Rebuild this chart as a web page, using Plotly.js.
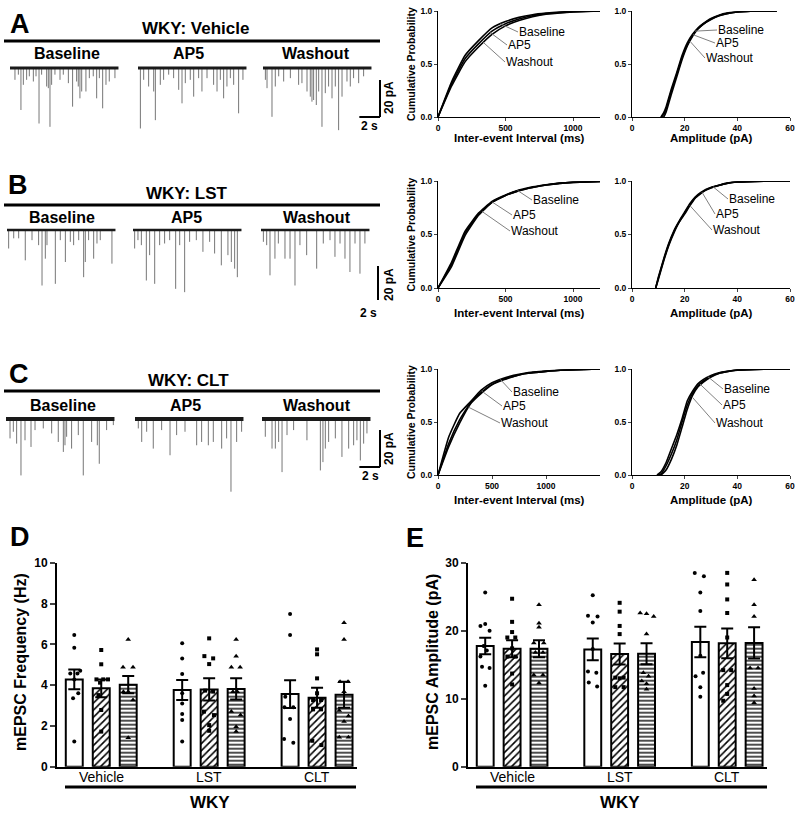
<!DOCTYPE html>
<html><head><meta charset="utf-8">
<script src="https://cdn.plot.ly/plotly-3.0.1.min.js"></script>
<style>html,body{margin:0;padding:0;background:#fff}#chart{width:800px;height:813px}</style>
</head><body><div id="chart"></div>
<script>
// ================= DATA =================
const conditions = ['Baseline', 'AP5', 'Washout'];
const groups = ['Vehicle', 'LST', 'CLT'];
const rowTitles = ['WKY: Vehicle', 'WKY: LST', 'WKY: CLT'];
const panelLetters = ['A', 'B', 'C', 'D', 'E'];

// Example traces: event times (s from trace start) and amplitudes (pA, inward)
const evtT_A_Baseline = [0.48,0.81,1.06,1.29,1.61,1.87,2.26,2.52,2.81,3.06,3.55,3.71,3.87,4.03,4.35,4.84,5.16,5.65,6.06,6.45,6.61,6.77,6.94,7.35,7.68,8.06,8.39,8.65,8.97,9.29,9.61,10.16];
const evtA_A_Baseline = [6.4,3.6,22.7,9.1,6.4,4.5,7.3,4.5,30,3.6,10,10.9,31.8,9.1,3.6,6.4,3.6,8.2,20.9,7.3,10,16.4,12.7,12.7,5.5,4.5,16.4,5.5,21.8,9.1,7.3,5.5];
const evtT_A_AP5 = [0.23,0.55,1.03,1.52,1.68,2.16,2.48,2.97,3.45,3.94,4.26,4.58,5.06,5.39,5.87,6.19,6.68,7.32,7.65,7.97,8.29,8.61,8.94,9.26,9.74,10.16];
const evtA_A_AP5 = [32.7,6.4,10,12.7,28.2,9.1,6.4,3.6,5.5,11.8,19.1,8.2,6.4,15.5,5.5,12.7,5.5,9.1,12.7,6.4,16.4,10,5.5,9.1,24.5,6.4];
const evtT_A_Washout = [0.23,0.39,0.87,1.19,1.52,2.0,2.65,3.45,3.77,4.26,4.58,4.74,4.9,5.16,5.39,5.71,6.03,6.35,6.68,7.0,7.32,7.65,8.13,8.45,8.77,9.26,9.74];
const evtA_A_Washout = [6.4,10.9,26.4,10,4.5,7.3,5.5,9.1,8.2,12.7,15.5,18.2,17.3,20,12.7,31.8,13.6,10,16.4,10,33.6,15.5,7.3,10,5.5,8.2,4.5];

const evtT_B_Baseline = [0.16,0.65,1.13,1.77,2.42,3.06,3.39,3.71,3.87,4.68,5.16,5.65,6.13,6.45,6.94,7.42,7.58,7.9,8.39,8.71,9.03,10.16];
const evtA_B_Baseline = [10,4.5,4.5,16.4,5.5,8.2,30,15.5,8.2,29.1,5.5,17.3,6.4,8.2,5.5,25.5,17.3,5.5,15.5,7.3,5.5,18.2];
const evtT_B_AP5 = [0.16,0.48,0.81,1.29,1.61,2.1,2.58,3.06,3.55,4.13,4.52,5.0,5.48,6.13,6.77,7.42,7.9,8.55,9.19,9.52,9.84,10.1];
const evtA_B_AP5 = [10,5.5,8.2,27.3,13.6,29.1,8.2,7.3,5.5,31.8,8.2,33.6,6.4,5.5,11.8,6.4,12.7,19.1,13.6,17.3,20.9,25.5];
const evtT_B_Washout = [0.23,0.55,0.87,1.35,1.68,2.32,2.81,3.29,3.77,4.42,5.39,6.03,6.68,7.16,7.65,8.13,8.61,9.1,9.58,10.06];
const evtA_B_Washout = [6.4,8.2,24.5,15.5,7.3,15.5,15.5,30,8.2,13.6,20.9,7.3,5.5,14.5,7.3,15.5,22.7,7.3,23.6,7.3];

const evtT_C_Baseline = [0.39,0.71,1.03,1.45,1.84,2.42,2.81,3.61,4.42,5.06,5.55,5.71,5.87,6.35,7.0,7.48,8.29,8.84,9.03,9.74,10.39];
const evtA_C_Baseline = [10.5,6.9,13.3,30.5,11.5,15.1,6,5.1,7.8,12.4,17.8,14.2,9.6,16,8.7,30.5,12.4,14.2,24.2,6,3.3];
const evtT_C_AP5 = [0.32,0.65,1.13,1.77,2.58,3.39,4.03,4.84,5.97,6.45,7.1,7.58,8.39,8.87,9.29,9.84,10.32];
const evtA_C_AP5 = [5.1,12.4,6.9,16,6,19.6,8.7,6.9,14.2,12.4,14.2,12.4,16,10.5,39.3,12.4,6.9];
const evtT_C_Washout = [0.32,0.97,1.29,1.61,1.94,2.42,3.06,4.35,5.65,5.9,6.13,6.45,7.1,7.74,8.39,8.87,9.19,9.52,9.84,10.16];
const evtA_C_Washout = [9.6,16,16,12.4,28.7,8.7,6,11.5,27.8,23.3,16,12.4,10.5,20.5,16,14.2,11.5,22.4,13.3,7.8];

// Cumulative probability: inter-event interval (ms)
const ieiX_AB = [0,100,200,300,400,500,600,700,800,900,1000,1200];
const iei_A_Baseline = [0,0.33,0.58,0.72,0.84,0.9,0.94,0.965,0.98,0.99,0.995,1];
const iei_A_AP5      = [0,0.31,0.55,0.69,0.81,0.88,0.925,0.955,0.975,0.985,0.993,1];
const iei_A_Washout  = [0,0.29,0.52,0.66,0.78,0.86,0.91,0.945,0.97,0.982,0.99,1];
const iei_B_Baseline = [0,0.24,0.53,0.7,0.81,0.87,0.915,0.945,0.965,0.98,0.988,0.995];
const iei_B_AP5      = [0,0.22,0.51,0.69,0.8,0.865,0.91,0.94,0.962,0.978,0.987,0.995];
const iei_B_Washout  = [0,0.2,0.49,0.68,0.8,0.865,0.91,0.94,0.962,0.978,0.987,0.995];
const ieiX_C = [0,100,200,300,400,500,600,700,800,1000,1200,1500];
const iei_C_Baseline = [0,0.36,0.58,0.69,0.8,0.87,0.91,0.94,0.96,0.98,0.99,1];
const iei_C_AP5      = [0,0.3,0.52,0.68,0.78,0.855,0.9,0.93,0.955,0.978,0.99,1];
const iei_C_Washout  = [0,0.27,0.49,0.67,0.77,0.85,0.895,0.93,0.955,0.978,0.99,1];

// Cumulative probability: amplitude (pA)
const ampX_A = [11,12,13,15,17,19,21,23,25,27,30,33,36,40,45,55];
const amp_A_Baseline = [0,0.04,0.1,0.27,0.42,0.58,0.7,0.78,0.84,0.88,0.93,0.96,0.98,0.99,0.997,1];
const amp_A_AP5      = [0,0.02,0.08,0.25,0.4,0.56,0.68,0.77,0.83,0.875,0.925,0.955,0.975,0.99,0.997,1];
const amp_A_Washout  = [0,0,0.05,0.22,0.38,0.54,0.67,0.76,0.83,0.875,0.92,0.955,0.975,0.99,0.997,1];
const ampX_B = [9,10,12,14,16,18,20,22,24,26,28,30,33,36,40,50,60];
const amp_B_Baseline = [0,0.1,0.27,0.42,0.54,0.63,0.71,0.79,0.85,0.89,0.92,0.94,0.96,0.98,0.99,0.998,1];
const amp_B_AP5      = [0,0.09,0.26,0.41,0.53,0.62,0.7,0.78,0.845,0.885,0.915,0.94,0.96,0.978,0.99,0.998,1];
const amp_B_Washout  = [0,0.08,0.25,0.4,0.52,0.62,0.69,0.77,0.84,0.88,0.915,0.935,0.958,0.976,0.99,0.998,1];
const ampX_C = [9.5,11,13,15,17,19,21,23,25,27,30,33,36,40,50,60];
const amp_C_Baseline = [0,0.03,0.12,0.25,0.38,0.53,0.7,0.79,0.86,0.9,0.94,0.965,0.978,0.99,0.998,1];
const amp_C_AP5      = [0,0.01,0.09,0.2,0.33,0.5,0.66,0.77,0.84,0.885,0.93,0.96,0.975,0.99,0.998,1];
const amp_C_Washout  = [0,0,0.05,0.15,0.28,0.45,0.62,0.75,0.83,0.875,0.925,0.958,0.974,0.988,0.998,1];

// D: mEPSC frequency (Hz): means and SEM per group [Vehicle, LST, CLT]
const freqMean_Baseline = [4.28, 3.76, 3.56];
const freqMean_AP5      = [3.84, 3.79, 3.38];
const freqMean_Washout  = [4.02, 3.81, 3.53];
const freqSem_Baseline  = [0.48, 0.49, 0.68];
const freqSem_AP5       = [0.43, 0.54, 0.49];
const freqSem_Washout   = [0.42, 0.52, 0.64];
const freqPts_Baseline = [[6.45,5.83,4.57,4.57,4.7,4.28,3.6,3.35,1.23],[6.05,5.31,4.55,3.6,3.1,2.58,2.29,1.23],[7.48,6.45,3.43,2.91,2.91,2.34,1.36,1.18]];
const freqJit_Baseline = [[0,0,-1,0.8,1.5,0,1,-0.3,0],[0,0,0,0,0,0,0,0],[0,0,-1.2,-1.4,0.8,0,-1.5,0.8]];
const freqPts_AP5 = [[5.72,5.02,4.28,4.28,4.28,4.12,3.51,2.78,1.72],[6.29,5.42,5.31,5.03,3.73,3.68,2.7,2.53,2.04,1.76],[5.75,5.51,4.33,3.6,3.27,3.27,2.81,2.81,1.27,1.06]];
const freqJit_AP5 = [[0,0,-1.2,0.5,1.7,-0.3,-0.7,0,0],[0,-1.2,1,0,-1,1,-1.3,1.2,0,0],[0,0,0,0,-1,1,-1,1,-1.2,1.1]];
const freqPts_Washout = [[6.24,4.87,4.87,3.68,3.68,3.27,1.42],[6.24,5.42,4.87,4.87,3.68,3.68,2.7,2.53,1.96,1.72],[7.06,6.24,4.17,4.17,3.68,2.75,2.48,2.21,1.44,1.44]];
const freqJit_Washout = [[0,-1.3,1.2,-1.2,0,1.2,0],[0,0,-1.2,1,-0.8,0.3,-1.2,1.1,0,0],[0,0,-1,1,0,-1.2,1.1,0,-1.2,1.1]];

// E: mEPSC amplitude (pA)
const ampMean_Baseline = [17.75, 17.25, 18.33];
const ampMean_AP5      = [17.35, 16.57, 18.14];
const ampMean_Washout  = [17.35, 16.6, 18.2];
const ampSem_Baseline  = [1.2, 1.6, 2.25];
const ampSem_AP5       = [1.25, 1.55, 2.2];
const ampSem_Washout   = [1.25, 1.55, 2.3];
const ampPts_Baseline = [[25.6,20.7,21.0,20.0,17.75,17.1,16.2,14.7,14.5,11.9],[25.2,22.2,22.1,21.2,17.3,14.0,13.8,12.4,11.8],[28.5,28.0,25.6,22.9,16.3,13.8,13.3,11.7,10.3]];
const ampJit_Baseline = [[0,-1.2,0,1.1,-0.4,0.4,-1.2,-0.8,1.1,0],[0,-1.2,1.2,0,0,-1.2,0.9,-1,1.1],[-1.4,0.9,0,0,0,0.7,-1.2,0,0]];
const ampPts_AP5 = [[24.7,21.3,19.8,19.0,19.0,17.4,16.2,16.2,13.7,12.1],[24.1,22.8,20.7,19.5,13.1,13.1,13.0,11.7,11.7],[28.5,26.8,24.6,22.6,19.0,14.2,14.2,12.0,10.7,9.7]];
const ampJit_AP5 = [[0,0,0,-1.2,0.8,0,-1.2,0.8,0,0],[0,0,0,0,-1.1,1,0,-1.1,1],[0,0,0,0,0,-1,1,0,0,-1]];
const ampPts_Washout = [[23.8,21.1,20.5,18.2,18.2,16.8,16.8,13.5,13.5,12.3],[22.6,22.5,22.1,19.5,13.8,13.3,12.6,12.2,11.4],[27.5,23.8,22.1,14.5,14.5,11.5,10.4,9.4]];
const ampJit_Washout = [[0,0,0,-1.3,1.2,-0.9,1,-1.3,1,0],[-1.6,0,1.8,0,-0.8,0.5,-1.2,0,0],[0,0,0,-1,1,0,0,0]];

// ================= LAYOUT / DRAWING =================
const FONT = 'Liberation Sans, Arial, sans-serif';
const W = 800, H = 813;
const px2x = p => p / W;
const px2y = p => 1 - p / H;
const traces = [];
const layout = {
  width: W, height: H, margin: {l:0, r:0, t:0, b:0},
  paper_bgcolor: '#fff', plot_bgcolor: 'rgba(0,0,0,0)',
  showlegend: false, barmode: 'overlay',
  font: {family: FONT, color: '#000'},
  annotations: [], shapes: []
};
let axisCount = 0;
function addAxes(xpx, ypx, xo, yo) {
  axisCount++;
  const n = axisCount === 1 ? '' : String(axisCount);
  layout['xaxis' + n] = Object.assign({domain: [px2x(xpx[0]), px2x(xpx[1])], anchor: 'y' + n, fixedrange: true}, xo);
  layout['yaxis' + n] = Object.assign({domain: [px2y(ypx[1]), px2y(ypx[0])], anchor: 'x' + n, fixedrange: true}, yo);
  return {x: 'x' + n, y: 'y' + n};
}
function txt(text, x, y, size, bold, extra) {
  layout.annotations.push(Object.assign({
    text: text, x: px2x(x), y: px2y(y), xref: 'paper', yref: 'paper', showarrow: false,
    xanchor: 'center', yanchor: 'middle',
    font: {family: FONT, size: size, color: '#000', weight: bold ? 700 : 400}
  }, extra || {}));
}
function hline(x0, x1, y, w) {
  layout.shapes.push({type: 'line', xref: 'paper', yref: 'paper', x0: px2x(x0), x1: px2x(x1), y0: px2y(y), y1: px2y(y), line: {color: '#000', width: w}});
}
function interp(xs, ys, v) {
  for (let i = 1; i < xs.length; i++) {
    if (v <= xs[i]) { const f = (v - xs[i-1]) / (xs[i] - xs[i-1]); return ys[i-1] + f * (ys[i] - ys[i-1]); }
  }
  return ys[ys.length - 1];
}

// ---- Panels A-C : example traces ----
const PX_PER_S = 10.33, PX_PER_PA = 1.85, TRACE_DUR = 10.5, SCALE_PA = 20, SCALE_S = 2;
const rowGeom = [
  {base: 68,  top: 50,  bottom: 140, starts: [10, 138, 263], corner: [380, 117], lw: 3,
   title: [195, 29], rule: 41, sub: [[67,54],[188,54],[316,54]], letter: [20,24], pa: [389, 98], s: [369, 126]},
  {base: 230, top: 212, bottom: 300, starts: [7, 133, 261], corner: [378, 303], lw: 2.5,
   title: [187, 193], rule: 205, sub: [[62,218],[186,218],[317,218]], letter: [18,185], pa: [389, 285], s: [368, 313]},
  {base: 419, top: 400, bottom: 500, starts: [6, 135, 262], corner: [380, 467], lw: 4,
   title: [188, 380], rule: 391, sub: [[63,405],[185,405],[317,405]], letter: [19,374], pa: [389, 449], s: [370, 476]}
];
const evtT = [[evtT_A_Baseline, evtT_A_AP5, evtT_A_Washout],[evtT_B_Baseline, evtT_B_AP5, evtT_B_Washout],[evtT_C_Baseline, evtT_C_AP5, evtT_C_Washout]];
const evtA = [[evtA_A_Baseline, evtA_A_AP5, evtA_A_Washout],[evtA_B_Baseline, evtA_B_AP5, evtA_B_Washout],[evtA_C_Baseline, evtA_C_AP5, evtA_C_Washout]];

rowGeom.forEach((g, r) => {
  const ax = addAxes([0, 400], [g.top, g.bottom],
    {range: [0, 400 / PX_PER_S], visible: false},
    {range: [-(g.bottom - g.base) / PX_PER_PA, (g.base - g.top) / PX_PER_PA], visible: false});
  for (let c = 0; c < 3; c++) {
    const s0 = g.starts[c] / PX_PER_S;
    const xs = [], ys = [];
    evtT[r][c].forEach((t, i) => { xs.push(s0 + t, s0 + t, null); ys.push(0, -evtA[r][c][i], null); });
    traces.push({type: 'scatter', mode: 'lines', x: xs, y: ys, xaxis: ax.x, yaxis: ax.y,
      line: {color: '#767676', width: 1}, hoverinfo: 'skip'});
    traces.push({type: 'scatter', mode: 'lines', x: [s0, s0 + TRACE_DUR], y: [0, 0], xaxis: ax.x, yaxis: ax.y,
      line: {color: '#1a1a1a', width: g.lw}, hoverinfo: 'skip'});
    txt(conditions[c], g.sub[c][0], g.sub[c][1], 16, true);
  }
  // scale bar
  const cx = g.corner[0] / PX_PER_S, cy = (g.base - g.corner[1]) / PX_PER_PA;
  layout.shapes.push({type: 'line', xref: ax.x, yref: ax.y, x0: cx, x1: cx, y0: cy, y1: cy + SCALE_PA, line: {color: '#000', width: 2}});
  layout.shapes.push({type: 'line', xref: ax.x, yref: ax.y, x0: cx - SCALE_S, x1: cx, y0: cy, y1: cy, line: {color: '#000', width: 2}});
  txt(SCALE_PA + ' pA', g.pa[0], g.pa[1], 12, true, {textangle: -90});
  txt(SCALE_S + ' s', g.s[0], g.s[1], 12, true);
  txt(rowTitles[r], g.title[0], g.title[1], 17, true);
  hline(4, 380, g.rule, 3);
  txt(panelLetters[r], g.letter[0], g.letter[1], 27, true);
});

// ---- cumulative probability plots ----
const cumPlots = [
  {x: [438,600], y: [11,117],  range: [0,1200], tv: [0,500,1000], xs: ieiX_AB, curves: [iei_A_Baseline, iei_A_AP5, iei_A_Washout],
   title: 'Inter-event Interval (ms)', ty: 138, lab: [[518,32,463],[507,45,388],[505,62,336]]},
  {x: [632,790], y: [11,117],  range: [0,60], tv: [0,20,40,60], xs: ampX_A, curves: [amp_A_Baseline, amp_A_AP5, amp_A_Washout],
   title: 'Amplitude (pA)', ty: 138, lab: [[717,30,24],[715,43,23.2],[705,58,22]]},
  {x: [438,600], y: [181,288], range: [0,1200], tv: [0,500,1000], xs: ieiX_AB, curves: [iei_B_Baseline, iei_B_AP5, iei_B_Washout],
   title: 'Inter-event Interval (ms)', ty: 313, lab: [[532,200,590],[512,215,403],[510,231,328]]},
  {x: [632,790], y: [181,288], range: [0,60], tv: [0,20,40,60], xs: ampX_B, curves: [amp_B_Baseline, amp_B_AP5, amp_B_Washout],
   title: 'Amplitude (pA)', ty: 313, lab: [[728,199,30.8],[715,214,26.6],[712,230,22]]},
  {x: [438,600], y: [369,475], range: [0,1500], tv: [0,500,1000], xs: ieiX_C, curves: [iei_C_Baseline, iei_C_AP5, iei_C_Washout],
   title: 'Inter-event Interval (ms)', ty: 500, lab: [[512,392,578],[502,406,410],[500,423,283]]},
  {x: [632,790], y: [369,475], range: [0,60], tv: [0,20,40,60], xs: ampX_C, curves: [amp_C_Baseline, amp_C_AP5, amp_C_Washout],
   title: 'Amplitude (pA)', ty: 500, lab: [[723,389,28.9],[722,405,25.8],[715,423,22.8]]}
];
const tickFontSmall = {family: FONT, size: 8.5, color: '#000', weight: 700};
cumPlots.forEach((p, i) => {
  const ax = addAxes(p.x, p.y,
    {range: p.range, tickvals: p.tv, ticks: 'outside', ticklen: 3, tickwidth: 1, showline: true, linewidth: 1, linecolor: '#000',
     showgrid: false, zeroline: false, tickfont: tickFontSmall},
    {range: [0, 1], tickvals: [0, 0.5, 1], ticktext: ['0.0', '0.5', '1.0'], ticks: 'outside', ticklen: 3, tickwidth: 1,
     showline: true, linewidth: 1, linecolor: '#000', showgrid: false, zeroline: false, tickfont: tickFontSmall});
  p.curves.forEach(cv => {
    traces.push({type: 'scatter', mode: 'lines', x: p.xs, y: cv, xaxis: ax.x, yaxis: ax.y,
      line: {color: '#000', width: 1.6, shape: 'spline', smoothing: 0.4}, hoverinfo: 'skip', cliponaxis: false});
  });
  p.lab.forEach((l, c) => {
    const v = l[2], pv = interp(p.xs, p.curves[c], v);
    const pxX = p.x[0] + (v - p.range[0]) / (p.range[1] - p.range[0]) * (p.x[1] - p.x[0]);
    const pxY = p.y[1] - pv * (p.y[1] - p.y[0]);
    layout.annotations.push({text: conditions[c], x: v, y: pv, xref: ax.x, yref: ax.y, showarrow: true,
      arrowhead: 0, arrowwidth: 1, arrowcolor: '#808080', ax: l[0] - pxX, ay: l[1] - pxY, axref: 'pixel', ayref: 'pixel',
      xanchor: 'left', yanchor: 'middle', standoff: 0, borderpad: 0,
      font: {family: FONT, size: 12, color: '#000'}});
  });
  txt(p.title, (p.x[0] + p.x[1]) / 2, p.ty, 11.5, true);
  if (i % 2 === 0) txt('Cumulative Probability', 411, (p.y[0] + p.y[1]) / 2, 10.5, true, {textangle: -90});
});

// ---- D & E bar charts ----
const BAR_OFF = [-0.25, 0, 0.25], BAR_W = 0.157, JIT = 0.037, XRANGE = [-0.41, 2.37];
const patterns = [null, {shape: '/', fgcolor: '#000', bgcolor: '#fff', size: 5, solidity: 0.32},
                  {shape: '-', fgcolor: '#000', bgcolor: '#fff', size: 4, solidity: 0.35}];
const symbols = ['circle', 'square', 'triangle-up'];
const msizes = [4, 4, 5];
const barPanels = [
  {x: [57,357], y: [562.7,766.7], range: [0,10], dtick: 2, title: 'mEPSC Frequency (Hz)', tx: 20,
   means: [freqMean_Baseline, freqMean_AP5, freqMean_Washout], sems: [freqSem_Baseline, freqSem_AP5, freqSem_Washout],
   pts: [freqPts_Baseline, freqPts_AP5, freqPts_Washout], jit: [freqJit_Baseline, freqJit_AP5, freqJit_Washout],
   letter: [20,537], rule: [65,356], wky: 210},
  {x: [468,767], y: [562.7,766.7], range: [0,30], dtick: 10, title: 'mEPSC Amplitude (pA)', tx: 432,
   means: [ampMean_Baseline, ampMean_AP5, ampMean_Washout], sems: [ampSem_Baseline, ampSem_AP5, ampSem_Washout],
   pts: [ampPts_Baseline, ampPts_AP5, ampPts_Washout], jit: [ampJit_Baseline, ampJit_AP5, ampJit_Washout],
   letter: [415,538], rule: [476,767], wky: 620}
];
barPanels.forEach((bp, i) => {
  const ax = addAxes(bp.x, bp.y,
    {range: XRANGE, showticklabels: false, ticks: '', showline: true, linewidth: 2, linecolor: '#000',
     showgrid: false, zeroline: false},
    {range: bp.range, dtick: bp.dtick, ticks: 'outside', ticklen: 5, tickwidth: 2, showline: true, linewidth: 2, linecolor: '#000',
     showgrid: false, zeroline: false, tickfont: {family: FONT, size: 12, color: '#000', weight: 700}});
  for (let k = 0; k < 3; k++) {
    const marker = {color: '#fff', line: {color: '#000', width: 2}};
    if (patterns[k]) marker.pattern = patterns[k];
    traces.push({type: 'bar', x: [0, 1, 2].map(g => g + BAR_OFF[k]), y: bp.means[k], width: BAR_W,
      xaxis: ax.x, yaxis: ax.y, marker: marker, hoverinfo: 'skip',
      error_y: {type: 'data', array: bp.sems[k], visible: true, color: '#000', thickness: 2, width: 6}});
  }
  for (let k = 0; k < 3; k++) {
    const xs = [], ys = [];
    for (let g = 0; g < 3; g++) {
      bp.pts[k][g].forEach((v, j) => { xs.push(g + BAR_OFF[k] + bp.jit[k][g][j] * JIT); ys.push(v); });
    }
    traces.push({type: 'scatter', mode: 'markers', x: xs, y: ys, xaxis: ax.x, yaxis: ax.y, cliponaxis: false,
      marker: {symbol: symbols[k], size: msizes[k], color: '#000'}, hoverinfo: 'skip'});
  }
  // group (category) labels under the axis
  groups.forEach((gname, g) => {
    const px = bp.x[0] + (g - XRANGE[0]) / (XRANGE[1] - XRANGE[0]) * (bp.x[1] - bp.x[0]);
    txt(gname, px, 776.5, 14, false);
  });
  txt(bp.title, bp.tx, 662, 16, true, {textangle: -90});
  txt(panelLetters[3 + i], bp.letter[0], bp.letter[1], 27, true);
  hline(bp.rule[0], bp.rule[1], 787, 3);
  txt('WKY', bp.wky, 802, 17, true);
});

Plotly.newPlot('chart', traces, layout, {staticPlot: true, displayModeBar: false});
</script>
</body></html>
